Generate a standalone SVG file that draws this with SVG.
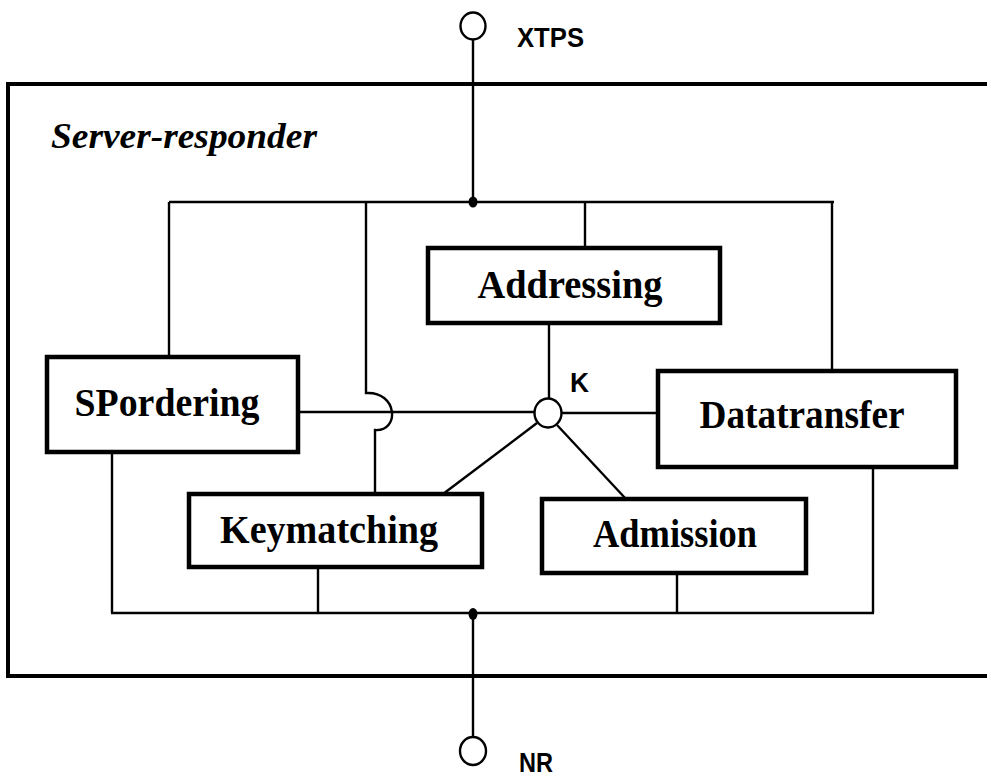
<svg xmlns="http://www.w3.org/2000/svg" width="987" height="778" viewBox="0 0 987 778">
<style>
.frame{fill:none;stroke:#000;stroke-width:4}
.box{fill:#fff;stroke:#000;stroke-width:4.5}
.ln{fill:none;stroke:#000;stroke-width:2.4}
.lbl{font-family:"Liberation Serif","Times New Roman",serif;font-weight:bold;font-size:41px;text-anchor:middle;fill:#000}
.sans{font-family:"Liberation Sans",Arial,sans-serif;font-weight:bold;font-size:27px;fill:#000}
.title{font-family:"Liberation Serif","Times New Roman",serif;font-weight:bold;font-style:italic;font-size:36px;fill:#000}
</style>
<rect width="987" height="778" fill="#fff"/>
<g id="server-responder">
<rect class="frame" x="8" y="84" width="990" height="592"/>
<text class="title" x="51" y="148" textLength="266" lengthAdjust="spacingAndGlyphs">Server-responder</text>
</g>
<g id="connectors">
<line class="ln" x1="473" y1="39" x2="473" y2="202"/>
<line class="ln" x1="169" y1="202" x2="834" y2="202"/>
<line class="ln" x1="169" y1="202" x2="169" y2="357"/>
<line class="ln" x1="585" y1="202" x2="585" y2="248"/>
<line class="ln" x1="832" y1="202" x2="832" y2="371"/>
<path class="ln" d="M366 202 V393 C 398 391, 400 432, 375 430 V494"/>
<line class="ln" x1="297" y1="412" x2="534" y2="412"/>
<line class="ln" x1="549" y1="323" x2="549" y2="399"/>
<line class="ln" x1="562" y1="413" x2="658" y2="413"/>
<line class="ln" x1="537" y1="423" x2="443" y2="494"/>
<line class="ln" x1="557" y1="425" x2="626" y2="499"/>
<line class="ln" x1="112" y1="452" x2="112" y2="613"/>
<line class="ln" x1="873" y1="467" x2="873" y2="613"/>
<line class="ln" x1="318" y1="567" x2="318" y2="613"/>
<line class="ln" x1="677" y1="573" x2="677" y2="613"/>
<line class="ln" x1="111" y1="613" x2="874" y2="613"/>
<line class="ln" x1="473" y1="613" x2="473" y2="737"/>
<ellipse cx="473" cy="202" rx="4.5" ry="5.5" fill="#000"/>
<ellipse cx="473" cy="614" rx="4.5" ry="6" fill="#000"/>
</g>
<g id="xtps">
<ellipse class="ln" cx="473" cy="26" rx="12.5" ry="13.5" fill="#fff"/>
<text class="sans" x="517" y="47" textLength="67" lengthAdjust="spacingAndGlyphs">XTPS</text>
</g>
<g id="nr">
<ellipse class="ln" cx="473" cy="751" rx="13" ry="14" fill="#fff"/>
<text class="sans" x="519" y="772" font-size="29" textLength="34" lengthAdjust="spacingAndGlyphs">NR</text>
</g>
<g id="k">
<ellipse class="ln" cx="548" cy="413" rx="13.5" ry="14.5" fill="#fff"/>
<text class="sans" x="570" y="392" textLength="19" lengthAdjust="spacingAndGlyphs">K</text>
</g>
<g id="addressing">
<rect class="box" x="428" y="248" width="292" height="75"/>
<text class="lbl" x="570" y="298" textLength="185" lengthAdjust="spacingAndGlyphs">Addressing</text>
</g>
<g id="spordering">
<rect class="box" x="47" y="357" width="251" height="95"/>
<text class="lbl" x="167" y="416" textLength="185" lengthAdjust="spacingAndGlyphs">SPordering</text>
</g>
<g id="datatransfer">
<rect class="box" x="658" y="371" width="298" height="96"/>
<text class="lbl" x="802" y="428" textLength="205" lengthAdjust="spacingAndGlyphs">Datatransfer</text>
</g>
<g id="keymatching">
<rect class="box" x="189" y="494" width="293" height="73"/>
<text class="lbl" x="329" y="543" textLength="218" lengthAdjust="spacingAndGlyphs">Keymatching</text>
</g>
<g id="admission">
<rect class="box" x="542" y="499" width="264" height="74"/>
<text class="lbl" x="675" y="547" textLength="164" lengthAdjust="spacingAndGlyphs">Admission</text>
</g>
</svg>
